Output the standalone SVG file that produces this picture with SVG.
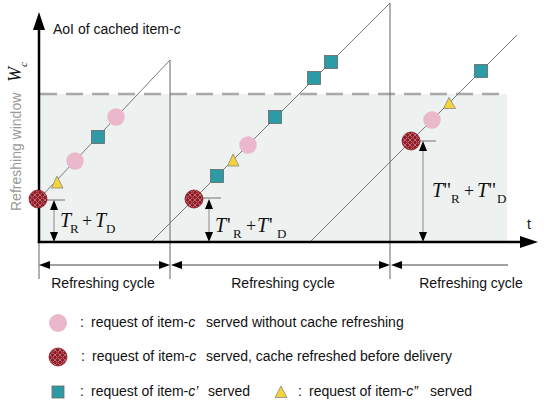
<svg xmlns="http://www.w3.org/2000/svg" width="554" height="415" viewBox="0 0 554 415">
<style>
.sans{font-family:"Liberation Sans",Arial,sans-serif;font-size:14px;fill:#111}
.serif{font-family:"Liberation Serif","Times New Roman",serif;fill:#111}
.it{font-style:italic}
.saw{stroke:#7a7a7a;stroke-width:1;fill:none}
.vl{stroke:#666;stroke-width:1;fill:none}
.tick{stroke:#888;stroke-width:1.2;fill:none}
.dim{stroke:#999;stroke-width:1.2;fill:none}
.ax{stroke:#000;stroke-width:2.5;fill:none}
.cyc{stroke:#444;stroke-width:1;fill:none}
.head{fill:#000}
.pink{fill:#ebb7ca}
.sq{fill:#2c9ba5;stroke:#666;stroke-width:0.8}
.tri{fill:#f6d33b;stroke:#888;stroke-width:0.8}
.red{fill:url(#dots);stroke:#8c1b25;stroke-width:0.8}
</style>
<defs>
<pattern id="dots" width="5" height="5" patternUnits="userSpaceOnUse">
<rect width="5" height="5" fill="#8e1c27"/>
<path d="M0 0L5 5M5 0L0 5" stroke="#d9a0a5" stroke-width="0.6"/>
<circle cx="2.5" cy="2.5" r="1.1" fill="#b23a45"/>
</pattern>
</defs>

<g id="background">
<rect x="39" y="94" width="468" height="148" fill="#edf1f0"/>
<line x1="40" y1="94" x2="507" y2="94" stroke="#a9a9a9" stroke-width="2.5" stroke-dasharray="17 9"/>
</g>

<g id="connectors">
<line class="saw" x1="39" y1="199" x2="170" y2="60"/>
<line class="vl" x1="170" y1="60" x2="170" y2="279"/>
<line class="saw" x1="151" y1="242" x2="390" y2="3"/>
<line class="vl" x1="390" y1="3" x2="390" y2="279"/>
<line class="saw" x1="310" y1="242" x2="517" y2="35"/>
<line class="tick" x1="45" y1="200" x2="65" y2="200"/>
<line class="tick" x1="200" y1="198" x2="221" y2="198"/>
<line class="tick" x1="417" y1="141" x2="436" y2="141"/>
<line class="dim" x1="54" y1="208" x2="54" y2="234"/>
<polygon class="head" points="54,200 50,210 58,210"/>
<polygon class="head" points="54,242 50,232 58,232"/>
<line class="dim" x1="209" y1="207" x2="209" y2="234"/>
<polygon class="head" points="209,199 205,209 213,209"/>
<polygon class="head" points="209,242 205,232 213,232"/>
<line class="dim" x1="423" y1="149" x2="423" y2="234"/>
<polygon class="head" points="423,141 419,151 427,151"/>
<polygon class="head" points="423,242 419,232 427,232"/>
<line class="vl" x1="39" y1="242" x2="39" y2="279"/>
<line class="cyc" x1="45" y1="265" x2="164" y2="265"/>
<polygon class="head" points="39,265 50,261 50,269"/>
<polygon class="head" points="170,265 159,261 159,269"/>
<line class="cyc" x1="176" y1="265" x2="384" y2="265"/>
<polygon class="head" points="171,265 182,261 182,269"/>
<polygon class="head" points="390,265 379,261 379,269"/>
<line class="cyc" x1="396" y1="265" x2="508" y2="265"/>
<polygon class="head" points="391,265 402,261 402,269"/>
<line class="ax" x1="39" y1="243" x2="39" y2="26"/>
<polygon class="head" points="39,12 33,30 45,30"/>
<line class="ax" x1="37.8" y1="242" x2="522" y2="242"/>
<polygon class="head" points="538,242 520,236 520,248"/>
</g>

<g id="cycle1-markers">
<circle class="red" cx="38" cy="199" r="9"/>
<polygon class="tri" points="57,176 51.5,188 63,188"/>
<circle class="pink" cx="75" cy="161" r="8.7"/>
<rect class="sq" x="91.5" y="130.5" width="13" height="13"/>
<circle class="pink" cx="116" cy="117" r="8.7"/>
</g>
<g id="cycle2-markers">
<circle class="red" cx="194" cy="199" r="9"/>
<rect class="sq" x="210.5" y="169.5" width="13" height="13"/>
<polygon class="tri" points="233,154 227.5,166 239,166"/>
<circle class="pink" cx="248" cy="145" r="8.7"/>
<rect class="sq" x="268.5" y="110.5" width="13" height="13"/>
<rect class="sq" x="307.5" y="71.5" width="13" height="13"/>
<rect class="sq" x="324.5" y="55.5" width="13" height="13"/>
</g>
<g id="cycle3-markers">
<circle class="red" cx="411" cy="141" r="9"/>
<circle class="pink" cx="432" cy="120" r="8.7"/>
<polygon class="tri" points="449,97.5 443.5,108.5 455.5,108.5"/>
<rect class="sq" x="474.5" y="64.5" width="13" height="13"/>
</g>

<g id="labels">
<text class="sans" x="53" y="34">AoI of cached item-<tspan class="it">c</tspan></text>
<g transform="translate(21,211) rotate(-90)">
<text class="sans" x="0" y="0" style="fill:#999">Refreshing window</text>
<text class="serif it" x="129" y="0" font-size="18">W<tspan font-size="11" dy="6">c</tspan></text>
</g>
<text class="sans" x="527" y="229">t</text>
<text class="serif" font-size="20"><tspan class="it" x="60" y="227">T</tspan><tspan font-size="13" x="70" y="233">R</tspan><tspan font-size="18" x="82" y="227">+</tspan><tspan class="it" x="95" y="227">T</tspan><tspan font-size="13" x="106" y="233">D</tspan></text>
<text class="serif" font-size="20"><tspan class="it" x="215" y="232">T</tspan><tspan x="227" y="232">'</tspan><tspan font-size="13" x="233" y="238">R</tspan><tspan font-size="18" x="246" y="232">+</tspan><tspan class="it" x="257" y="232">T</tspan><tspan x="269" y="232">'</tspan><tspan font-size="13" x="277" y="238">D</tspan></text>
<text class="serif" font-size="20"><tspan class="it" x="432" y="197">T</tspan><tspan x="443" y="197">"</tspan><tspan font-size="13" x="451" y="203">R</tspan><tspan font-size="18" x="464" y="197">+</tspan><tspan class="it" x="477" y="197">T</tspan><tspan x="488" y="197">"</tspan><tspan font-size="13" x="497" y="203">D</tspan></text>
<text class="sans" x="103" y="288" text-anchor="middle">Refreshing cycle</text>
<text class="sans" x="283" y="288" text-anchor="middle">Refreshing cycle</text>
<text class="sans" x="471" y="288" text-anchor="middle">Refreshing cycle</text>
</g>

<g id="legend">
<circle class="pink" cx="58" cy="323" r="9"/>
<text class="sans"><tspan x="80" y="327">:</tspan><tspan x="91" y="327">request of item-</tspan><tspan class="it">c</tspan><tspan x="206" y="327">served without cache refreshing</tspan></text>
<circle class="red" cx="58" cy="357" r="9"/>
<text class="sans"><tspan x="81" y="361">:</tspan><tspan x="92" y="361">request of item-</tspan><tspan class="it">c</tspan><tspan x="206" y="361">served, cache refreshed before delivery</tspan></text>
<rect class="sq" x="52" y="386" width="12" height="12"/>
<text class="sans"><tspan x="80" y="396">:</tspan><tspan x="91" y="396">request of item-</tspan><tspan class="it">c’</tspan><tspan x="208" y="396">served</tspan></text>
<polygon class="tri" points="281,386 275,397.5 287,397.5"/>
<text class="sans"><tspan x="298" y="396">:</tspan><tspan x="309" y="396">request of item-</tspan><tspan class="it">c”</tspan><tspan x="430" y="396">served</tspan></text>
</g>
</svg>
